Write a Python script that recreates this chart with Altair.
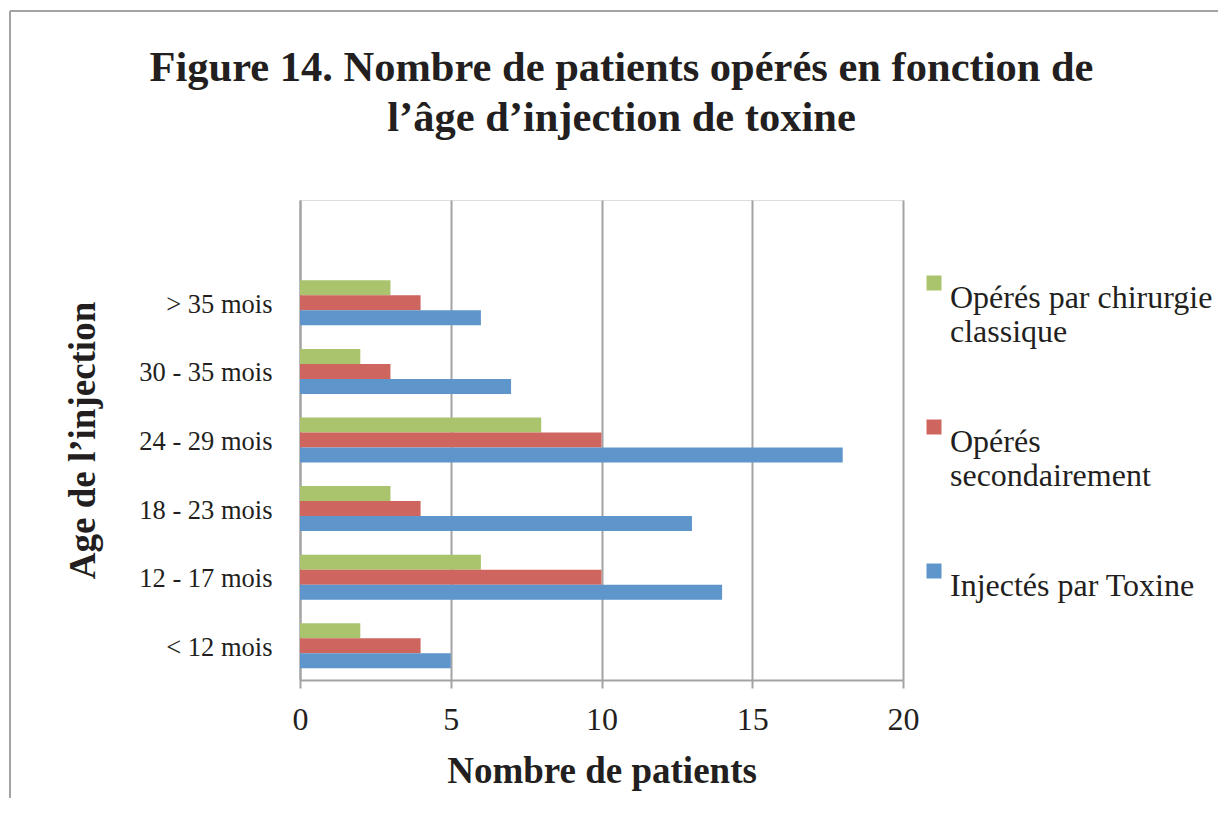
import altair as alt
import pandas as pd

categories = ["< 12 mois", "12 - 17 mois", "18 - 23 mois", "24 - 29 mois", "30 - 35 mois", "> 35 mois"]
series = ["Opérés par chirurgie classique", "Opérés secondairement", "Injectés par Toxine"]
legend_lines = [["Opérés par chirurgie", "classique"], ["Opérés", "secondairement"], ["Injectés par Toxine", " "]]
chirurgie = [2, 6, 3, 8, 2, 3]
secondaire = [4, 10, 4, 10, 3, 4]
toxine = [5, 14, 13, 18, 7, 6]
colors = ["#A9C46C", "#CE655E", "#5E95CB"]
x_ticks = [0, 5, 10, 15, 20]

rows = []
for i, c in enumerate(categories):
    for s, vals in zip(series, [chirurgie, secondaire, toxine]):
        rows.append({"age": c, "serie": s, "n": vals[i]})
df = pd.DataFrame(rows)

y_domain = [" "] + categories[::-1]
FONT = "Liberation Serif"
TXT = "#231F20"
GRID = "#A3A3A3"

label_expr = " : ".join(
    f"datum.label == '{s}' ? {legend_lines[i]!r}" for i, s in enumerate(series)
) + " : datum.label"

bars = alt.Chart(df).mark_bar(size=15).encode(
    x=alt.X("n:Q", scale=alt.Scale(domain=[0, 20], nice=False),
            axis=alt.Axis(values=x_ticks, title="Nombre de patients", grid=True,
                          gridColor=GRID, gridWidth=2, domainColor=GRID, domainWidth=2,
                          tickColor=GRID, tickWidth=2, tickSize=8, labelFlush=False,
                          labelFont=FONT, labelFontSize=32, labelColor=TXT, labelPadding=16,
                          titleFont=FONT, titleFontSize=37, titleFontWeight="bold",
                          titleColor=TXT, titlePadding=18)),
    y=alt.Y("age:N", scale=alt.Scale(domain=y_domain, paddingInner=0.344, paddingOuter=0.172),
            axis=alt.Axis(title="Age de l’injection", ticks=False, grid=False,
                          domainColor=GRID, domainWidth=2, labelOffset=2,
                          labelFont=FONT, labelFontSize=26.5, labelColor=TXT, labelPadding=28,
                          titleFont=FONT, titleFontSize=37, titleFontWeight="bold",
                          titleColor=TXT, titlePadding=36)),
    yOffset=alt.YOffset("serie:N", sort=series),
    color=alt.Color("serie:N", scale=alt.Scale(domain=series, range=colors),
                    legend=alt.Legend(orient="none", legendX=616, legendY=67, title=None,
                                      symbolType="square", symbolSize=225, symbolStrokeWidth=0,
                                      symbolOpacity=1, symbolOffset=2,
                                      labelFont=FONT, labelFontSize=32, labelColor=TXT,
                                      labelOffset=0, labelLimit=400, rowPadding=63,
                                      labelBaseline="top", labelExpr=label_expr, padding=0)),
)

border_df = pd.DataFrame({"k": [0]})
left_line = alt.Chart(border_df).mark_rule(color=GRID, strokeWidth=2).encode(
    x=alt.value(-290), y=alt.value(-189), y2=alt.value(598))
top_line = alt.Chart(border_df).mark_rule(color=GRID, strokeWidth=2).encode(
    x=alt.value(-290), x2=alt.value(918), y=alt.value(-189))

chart = alt.layer(left_line, top_line, bars).properties(
    width=603, height=480,
    padding={"left": 1, "top": 2, "right": 0, "bottom": 0},
    title=alt.TitleParams(
        text=["Figure 14. Nombre de patients opérés en fonction de", "l’âge d’injection de toxine"],
        font=FONT, fontSize=42.5, fontWeight="bold", color=TXT, anchor="middle",
        frame="group", dx=20, offset=-163, baseline="alphabetic", lineHeight=50),
).configure_view(strokeWidth=0).configure(
    background="white", style={"guide-label": {"lineHeight": 34}}
)

chart.save("out.html", embed_options={"renderer": "svg", "actions": False})
